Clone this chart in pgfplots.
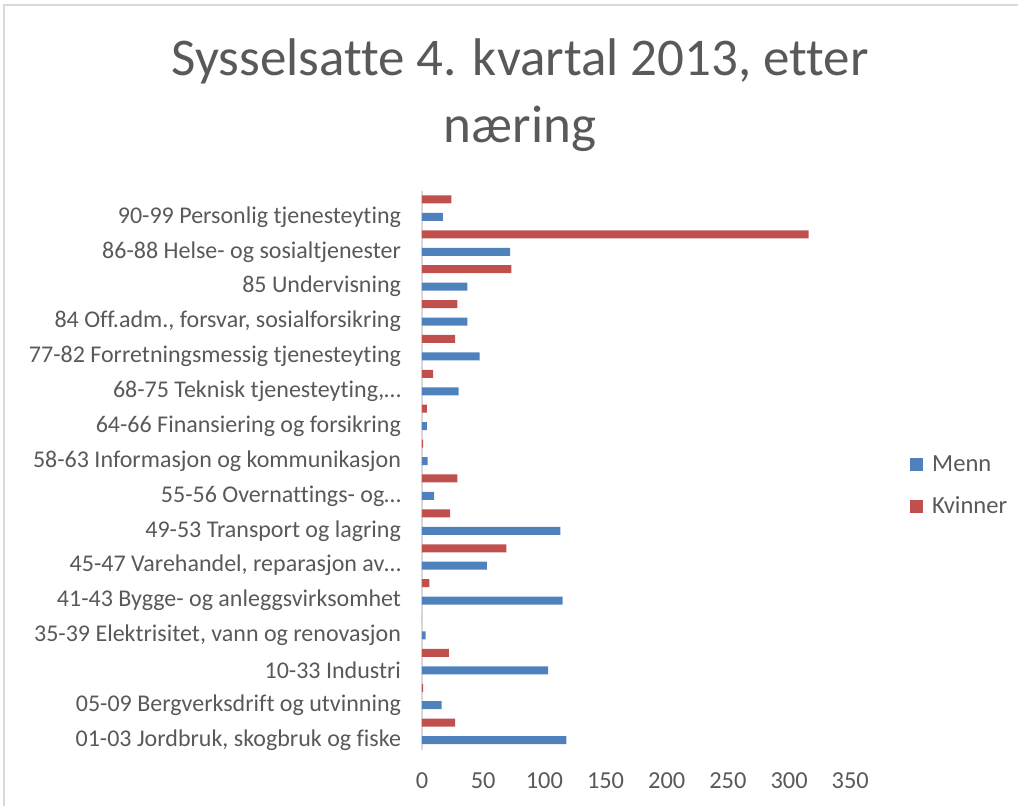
\documentclass[border=0pt]{standalone}
\usepackage{fontspec}
\setmainfont{Carlito}[Ligatures={NoCommon,NoContextual,NoRequired}]
\usepackage{pgfplots}
\pgfplotsset{compat=1.18}
\definecolor{menn}{HTML}{4F81BD}
\definecolor{kvinner}{HTML}{C0504D}
\definecolor{tekst}{HTML}{595959}
\definecolor{linje}{HTML}{D9D9D9}

\begin{document}
\begin{tikzpicture}
  \useasboundingbox (0,0) rectangle (509pt,402.5pt);
  \draw[linje,line width=0.6pt] (2pt,-20pt) rectangle (530pt,400pt);
  \node[anchor=base,text=tekst,font=\fontsize{26.5}{30}\selectfont] at (260pt,364.5pt) {Sysselsatte 4. kvartal 2013, etter};
  \node[anchor=base,text=tekst,font=\fontsize{26.5}{30}\selectfont] at (260pt,331pt) {næring};
  \begin{axis}[
    at={(211pt,27.75pt)},anchor=south west,
    scale only axis,width=214.15pt,height=279.2pt,
    xbar,bar width=4pt,
    xmin=0,xmax=350,ymin=-0.27,ymax=15.74,
    xtick={0,50,...,350},
    ytick={0,...,15},
    yticklabels={
      {01-03 Jordbruk, skogbruk og fiske},
      {05-09 Bergverksdrift og utvinning},
      {10-33 Industri},
      {35-39 Elektrisitet, vann og renovasjon},
      {41-43 Bygge- og anleggsvirksomhet},
      {45-47 Varehandel, reparasjon av…},
      {49-53 Transport og lagring},
      {55-56 Overnattings- og…},
      {58-63 Informasjon og kommunikasjon},
      {64-66 Finansiering og forsikring},
      {68-75 Teknisk tjenesteyting,…},
      {77-82 Forretningsmessig tjenesteyting},
      {84 Off.adm., forsvar, sosialforsikring},
      {85 Undervisning},
      {86-88 Helse- og sosialtjenester},
      {90-99 Personlig tjenesteyting}},
    major tick length=0pt,
    axis y line*=left,axis x line*=bottom,
    x axis line style={draw=none},
    y axis line style={draw=linje,line width=1pt},
    tick label style={text=tekst},
    /pgf/number format/assume math mode=true,
    xticklabel style={yshift=-8pt,font=\fontsize{12.2}{14}\selectfont},
    yticklabel style={xshift=-7pt,font=\fontsize{12}{14}\selectfont},
    legend style={at={(1.125,0.472)},anchor=west,draw=none,fill=none,
      font=\fontsize{12.3}{14}\selectfont,text=tekst,row sep=8pt,
      nodes={inner sep=1.5pt},
      /tikz/every odd column/.append style={column sep=3pt}},
    legend cell align=left,
    legend image code/.code={\fill[#1] (0pt,-3.25pt) rectangle (6.5pt,3.25pt);},
  ]
    % Menn: on the label line
    \addplot[fill=menn,draw=none,bar shift=0pt] coordinates {
      (118,0) (16,1) (103,2) (3,3) (115,4) (53,5) (113,6) (10,7)
      (4.5,8) (4,9) (30,10) (47,11) (37,12) (37,13) (72,14) (17,15)};
    \addlegendentry{Menn}
    % Kvinner: half a category above
    \addplot[fill=kvinner,draw=none,bar shift=0pt] coordinates {
      (27,0.5) (1,1.5) (22,2.5) (0,3.5) (6,4.5) (69,5.5) (23,6.5) (29,7.5)
      (1,8.5) (4,9.5) (9,10.5) (27,11.5) (29,12.5) (73,13.5) (316,14.5) (24,15.5)};
    \addlegendentry{Kvinner}
  \end{axis}
\end{tikzpicture}
\end{document}
